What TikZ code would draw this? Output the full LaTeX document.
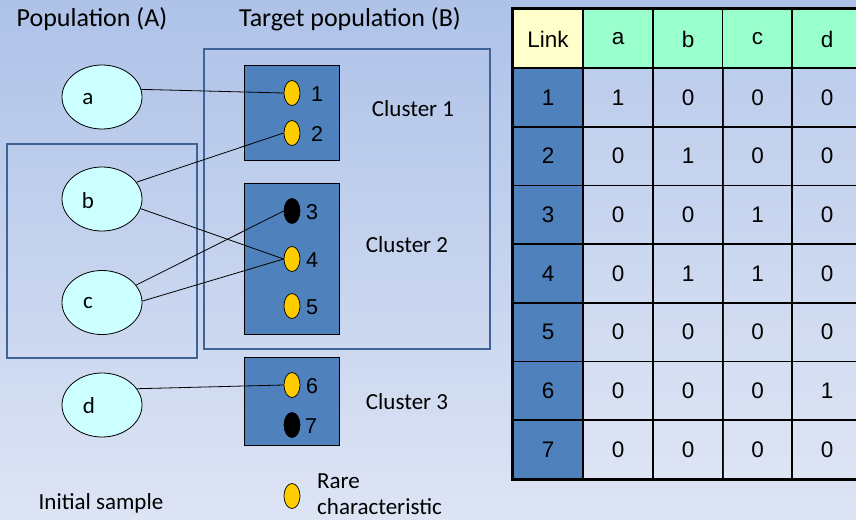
\documentclass[tikz,border=0pt]{standalone}
\usepackage{fontspec}
\setmainfont{Carlito}
\newfontfamily\tabfont{Liberation Sans}
\usetikzlibrary{shapes.geometric}
\definecolor{bgtop}{RGB}{174,194,232}
\definecolor{bgbot}{RGB}{221,228,244}
\definecolor{cyanL}{RGB}{204,255,255}
\definecolor{steel}{RGB}{79,129,189}
\definecolor{boxline}{RGB}{63,99,148}
\definecolor{rare}{RGB}{255,204,0}
\definecolor{hdrY}{RGB}{255,255,204}
\definecolor{hdrG}{RGB}{153,255,204}
\begin{document}
\begin{tikzpicture}[x=1pt,y=-1pt,
  popell/.style={ellipse, draw=black, line width=0.8pt, fill=cyanL, minimum width=80pt, minimum height=64pt, inner sep=0pt},
  dotY/.style={ellipse, draw=black, line width=0.7pt, fill=rare, minimum width=16pt, minimum height=25pt, inner sep=0pt},
  dotK/.style={ellipse, draw=black, line width=0.7pt, fill=black, minimum width=16pt, minimum height=25pt, inner sep=0pt},
  clbox/.style={draw=black, line width=0.8pt, fill=steel},
  bigbox/.style={draw=boxline, line width=2pt},
  txt/.style={font=\fontsize{23}{26}\selectfont, inner sep=0pt},
  numtxt/.style={font=\tabfont\fontsize{21.5}{24}\selectfont, inner sep=0pt},
  ttl/.style={font=\fontsize{26}{30}\selectfont, inner sep=0pt},
  link/.style={draw=black, line width=0.8pt},
  cell/.style={draw=black, line width=1.6pt, minimum width=70pt, minimum height=58.7pt, inner sep=0pt, font=\tabfont\fontsize{22.5}{25}\selectfont},
  dcell/.style={cell, fill=white, fill opacity=0.12, text opacity=1}
]
\useasboundingbox (0,0) rectangle (856,519);
\clip (0,0) rectangle (856,519);
\shade[top color=bgtop, bottom color=bgbot] (0,0) rectangle (856,519);

% titles
\node[ttl] (tA) at (92,19) {Population (A)};
\node[ttl] (tB) at (350,19) {Target population (B)};

% big boxes
\draw[bigbox] (7,144) rectangle (197,358);
\draw[bigbox] (204,49) rectangle (490,349);

% cluster boxes
\node[clbox, minimum width=95pt, minimum height=95pt, inner sep=0pt] (cl1) at (291.5,112.5) {};
\node[clbox, minimum width=95pt, minimum height=151pt, inner sep=0pt] (cl2) at (291.5,258.5) {};
\node[clbox, minimum width=95pt, minimum height=88pt, inner sep=0pt] (cl3) at (291.5,401) {};

% ellipses
\node[popell] (a) at (102,97) {};
\node[popell] (b) at (102,199) {};
\node[popell] (c) at (102,302.5) {};
\node[popell] (d) at (102,405) {};
\node[txt] (la) at (88,99) {a};
\node[txt] (lb) at (88,201) {b};
\node[txt] (lc) at (88,303) {c};
\node[txt] (ld) at (89,406) {d};

% dots
\node[dotY] (p1) at (292,93) {};
\node[dotY] (p2) at (292,133) {};
\node[dotK] (p3) at (292,211) {};
\node[dotY] (p4) at (292,259) {};
\node[dotY] (p5) at (292,306) {};
\node[dotY] (p6) at (292,385) {};
\node[dotK] (p7) at (292,425) {};
\node[numtxt] (n1) at (317,94) {1};
\node[numtxt] (n2) at (317,134) {2};
\node[numtxt] (n3) at (312,212) {3};
\node[numtxt] (n4) at (312,260) {4};
\node[numtxt] (n5) at (312,307) {5};
\node[numtxt] (n6) at (312,386) {6};
\node[numtxt] (n7) at (311,426) {7};

% cluster labels
\node[txt] (c1l) at (413,109) {Cluster 1};
\node[txt] (c2l) at (407,245) {Cluster 2};
\node[txt] (c3l) at (407,402) {Cluster 3};

% links
\draw[link] (a.11) -- (p1.west);
\draw[link] (b.26) -- (p2.west);
\draw[link] (b.-14) -- (p4.west);
\draw[link] (c.27) -- (p3.west);
\draw[link] (c.2) -- (p4.west);
\draw[link] (d.25) -- (p6.west);

% legend
\node[dotY] (leg) at (292,496) {};
\node[txt, anchor=west, align=left, font=\fontsize{23}{26}\selectfont] (legt) at (317,494) {Rare\\characteristic};
\node[txt] (init) at (101,503) {Initial sample};

% table
\node[cell, fill=hdrY] (h0) at (548,39) {Link};
\node[cell, fill=hdrG] (h1) at (618,39) {a};
\node[cell, fill=hdrG] (h2) at (688,39) {b};
\node[cell, fill=hdrG] (h3) at (757.5,39) {c};
\node[cell, fill=hdrG] (h4) at (827,39) {d};
\foreach \r/\va/\vb/\vc/\vd in {1/1/0/0/0, 2/0/1/0/0, 3/0/0/1/0, 4/0/1/1/0, 5/0/0/0/0, 6/0/0/0/1, 7/0/0/0/0}{
  \pgfmathsetmacro{\yy}{68+58.7*(\r-0.5)}
  \node[cell, fill=steel] (r\r) at (548,\yy) {\r};
  \node[dcell] (r\r a) at (618,\yy) {\va};
  \node[dcell] (r\r b) at (688,\yy) {\vb};
  \node[dcell] (r\r c) at (757.5,\yy) {\vc};
  \node[dcell] (r\r d) at (827,\yy) {\vd};
}
\draw[line width=3pt] (h0.north west) rectangle (r7d.south east);
\end{tikzpicture}
\end{document}
